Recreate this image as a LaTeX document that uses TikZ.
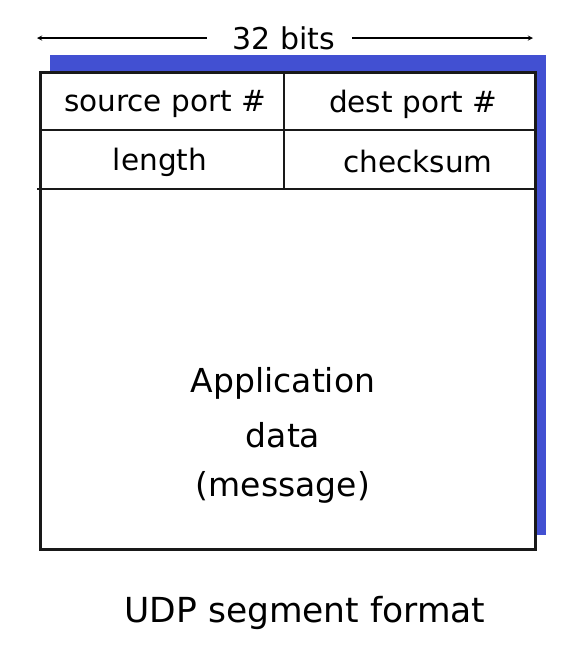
\documentclass[tikz,border=0pt]{standalone}
\usepackage{fontspec}
\setmainfont{DejaVu Sans}
\definecolor{shadowblue}{RGB}{66,80,210}
\begin{document}
\begin{tikzpicture}[x=1pt,y=-1pt,
  lbl/.style={inner sep=0pt, font=\fontsize{29.5}{34}\selectfont},
  big/.style={inner sep=0pt, font=\fontsize{33}{38}\selectfont},
  frame/.style={draw=black!90, line width=2.8pt},
  divider/.style={draw=black!90, line width=2.3pt}]
\useasboundingbox (0,0) rectangle (586,649);
% shadow
\fill[shadowblue] (50,55) rectangle (546,535);
% box
\node[frame, fill=white, minimum width=495pt, minimum height=477pt, inner sep=0pt, anchor=north west] (box) at (39,71) {};
\coordinate (r1l) at (39,130); \coordinate (r1r) at (534,130);
\coordinate (r2l) at (37,189); \coordinate (r2r) at (534,189);
\coordinate (vt) at (284,71); \coordinate (vb) at (284,189);
\draw[divider] (r1l) -- (r1r);
\draw[divider] (r2l) -- (r2r);
\draw[divider] (vt) -- (vb);
% width arrow
\node[inner sep=0pt, font=\fontsize{30}{34}\selectfont] (bits) at (284,38) {32 bits};
\coordinate (al) at (37,38); \coordinate (ar) at (533,38);
\draw[line width=1.3pt, -stealth] (bits.west) ++(-26,0) -- (al);
\draw[line width=1.3pt, -stealth] (bits.east) ++(17,0) -- (ar);
% fields
\node[lbl] (src) at (165,104) {source port \#};
\node[lbl] (dst) at (413,104) {dest port \#};
\node[lbl] (len) at (160,162) {length};
\node[lbl] (chk) at (418,161) {checksum};
\node[big] (app) at (283,383) {Application};
\node[big] (dat) at (283,435) {data};
\node[big] (msg) at (283,487) {(message)};
\node[inner sep=0pt, font=\fontsize{34.5}{40}\selectfont] (cap) at (305,613) {UDP segment format};
\end{tikzpicture}
\end{document}
